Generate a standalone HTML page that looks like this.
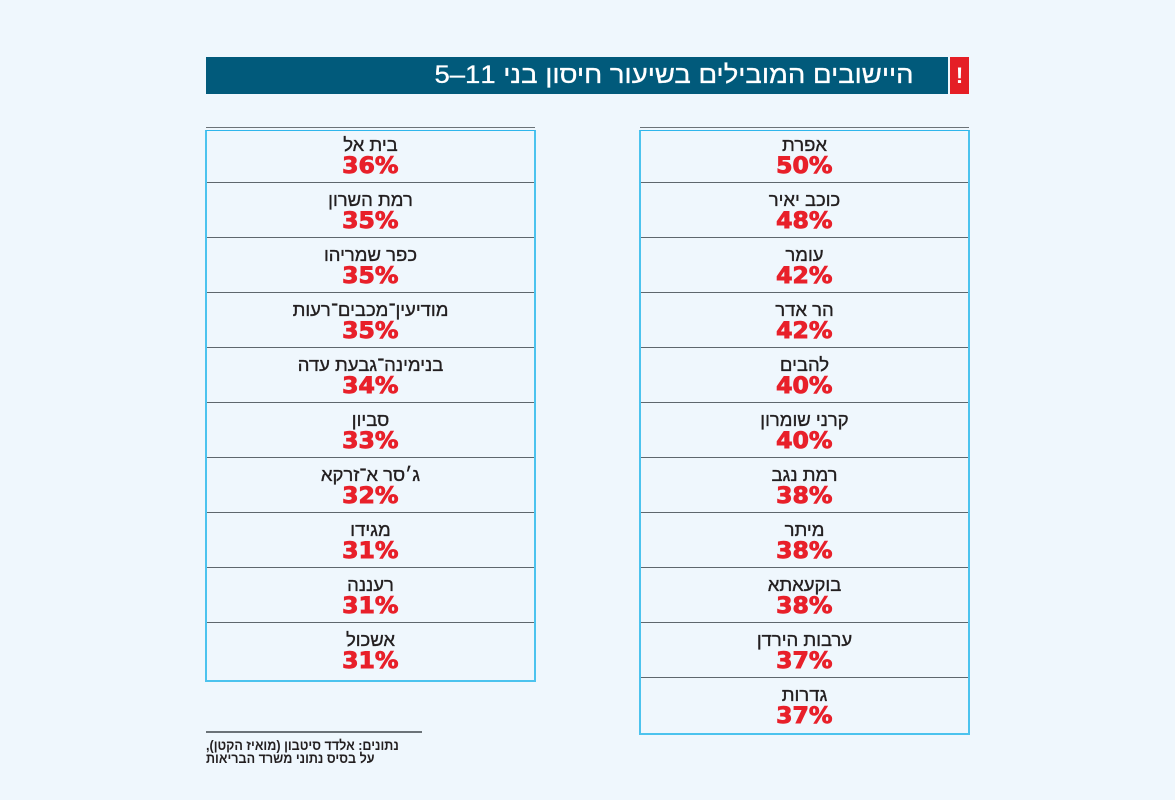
<!DOCTYPE html>
<html lang="he">
<head>
<meta charset="utf-8">
<style>
  html,body{margin:0;padding:0;}
  body{width:1175px;height:800px;background:#eff7fd;position:relative;overflow:hidden;
       font-family:"Liberation Sans","DejaVu Sans",sans-serif;}
  .hdr{position:absolute;left:206px;top:57px;width:742px;height:37px;background:#015a7b;}
  .hdr .t{position:absolute;right:34px;top:0;height:37px;line-height:37px;color:#fff;font-size:25px;
          direction:rtl;white-space:nowrap;transform:scaleX(1.1);transform-origin:right center;
          -webkit-text-stroke:0.3px #fff;}
  .ex{position:absolute;left:950px;top:57px;width:19px;height:37px;background:#e51f26;color:#fff;
      font-weight:bold;font-size:22px;line-height:37px;text-align:center;}
  .topline{position:absolute;height:1px;background:#6b7378;top:127px;}
  .box{position:absolute;top:130px;border:2px solid #4cc3ee;border-top:1px solid #2fb6ec;box-sizing:border-box;}
  .row{position:absolute;left:0;right:0;height:55px;text-align:center;direction:rtl;}
  .row .n{position:absolute;left:0;right:0;top:3px;font-size:18.5px;color:#231f20;line-height:22px;white-space:nowrap;
          -webkit-text-stroke:0.35px #231f20;}
  .row .p{position:absolute;left:0;right:0;top:24px;line-height:24px;}
  .row .p span{display:inline-block;font-family:"DejaVu Sans","Liberation Sans",sans-serif;font-weight:bold;
     font-size:22px;color:#e8202a;transform:scaleX(1.07);direction:ltr;-webkit-text-stroke:0.9px #e8202a;}
  .sep{position:absolute;left:0;right:0;height:1px;background:#5e676d;}
  .foot{position:absolute;left:206px;top:731px;width:216px;height:1.5px;background:#6b7378;}
  .ft{position:absolute;left:206px;font-size:14px;font-weight:bold;color:#231f20;direction:rtl;text-align:left;
      white-space:nowrap;line-height:14px;transform:scaleX(0.9);transform-origin:left center;}
</style>
</head>
<body>
<div class="hdr"><div class="t">היישובים המובילים בשיעור חיסון בני 11–5</div></div>
<div class="ex">!</div>

<div class="topline" style="left:206px;width:329px;"></div>
<div class="topline" style="left:640px;width:329px;"></div>

<!-- Left table -->
<div class="box" style="left:205px;width:331px;height:552px;">
  <div class="row" style="top:0px;"><div class="n">בית אל</div><div class="p"><span>36%</span></div></div>
  <div class="sep" style="top:51px;"></div>
  <div class="row" style="top:55px;"><div class="n">רמת השרון</div><div class="p"><span>35%</span></div></div>
  <div class="sep" style="top:106px;"></div>
  <div class="row" style="top:110px;"><div class="n">כפר שמריהו</div><div class="p"><span>35%</span></div></div>
  <div class="sep" style="top:161px;"></div>
  <div class="row" style="top:165px;"><div class="n">מודיעין־מכבים־רעות</div><div class="p"><span>35%</span></div></div>
  <div class="sep" style="top:216px;"></div>
  <div class="row" style="top:220px;"><div class="n">בנימינה־גבעת עדה</div><div class="p"><span>34%</span></div></div>
  <div class="sep" style="top:271px;"></div>
  <div class="row" style="top:275px;"><div class="n">סביון</div><div class="p"><span>33%</span></div></div>
  <div class="sep" style="top:326px;"></div>
  <div class="row" style="top:330px;"><div class="n">ג׳סר א־זרקא</div><div class="p"><span>32%</span></div></div>
  <div class="sep" style="top:381px;"></div>
  <div class="row" style="top:385px;"><div class="n">מגידו</div><div class="p"><span>31%</span></div></div>
  <div class="sep" style="top:436px;"></div>
  <div class="row" style="top:440px;"><div class="n">רעננה</div><div class="p"><span>31%</span></div></div>
  <div class="sep" style="top:491px;"></div>
  <div class="row" style="top:495px;"><div class="n">אשכול</div><div class="p"><span>31%</span></div></div>
</div>

<!-- Right table -->
<div class="box" style="left:639px;width:331px;height:605px;">
  <div class="row" style="top:0px;"><div class="n">אפרת</div><div class="p"><span>50%</span></div></div>
  <div class="sep" style="top:51px;"></div>
  <div class="row" style="top:55px;"><div class="n">כוכב יאיר</div><div class="p"><span>48%</span></div></div>
  <div class="sep" style="top:106px;"></div>
  <div class="row" style="top:110px;"><div class="n">עומר</div><div class="p"><span>42%</span></div></div>
  <div class="sep" style="top:161px;"></div>
  <div class="row" style="top:165px;"><div class="n">הר אדר</div><div class="p"><span>42%</span></div></div>
  <div class="sep" style="top:216px;"></div>
  <div class="row" style="top:220px;"><div class="n">להבים</div><div class="p"><span>40%</span></div></div>
  <div class="sep" style="top:271px;"></div>
  <div class="row" style="top:275px;"><div class="n">קרני שומרון</div><div class="p"><span>40%</span></div></div>
  <div class="sep" style="top:326px;"></div>
  <div class="row" style="top:330px;"><div class="n">רמת נגב</div><div class="p"><span>38%</span></div></div>
  <div class="sep" style="top:381px;"></div>
  <div class="row" style="top:385px;"><div class="n">מיתר</div><div class="p"><span>38%</span></div></div>
  <div class="sep" style="top:436px;"></div>
  <div class="row" style="top:440px;"><div class="n">בוקעאתא</div><div class="p"><span>38%</span></div></div>
  <div class="sep" style="top:491px;"></div>
  <div class="row" style="top:495px;"><div class="n">ערבות הירדן</div><div class="p"><span>37%</span></div></div>
  <div class="sep" style="top:546px;"></div>
  <div class="row" style="top:550px;"><div class="n">גדרות</div><div class="p"><span>37%</span></div></div>
</div>

<div class="foot"></div>
<div class="ft" style="top:738px;">נתונים: אלדד סיטבון (מואיז הקטן),</div>
<div class="ft" style="top:751px;">על בסיס נתוני משרד הבריאות</div>
</body>
</html>
